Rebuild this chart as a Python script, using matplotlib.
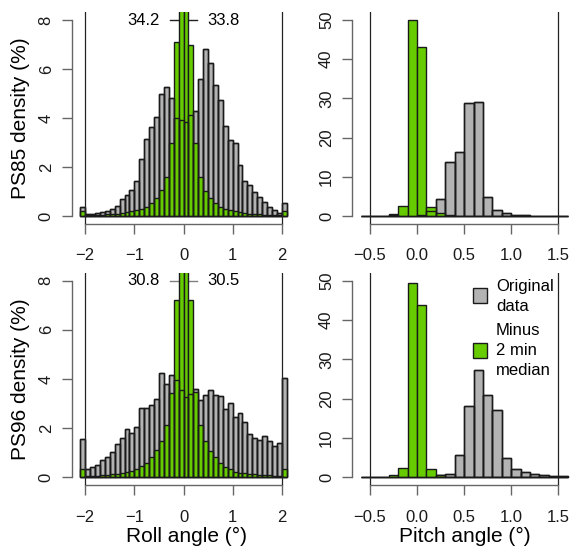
import numpy as np
import matplotlib
matplotlib.use("Agg")
import matplotlib.pyplot as plt
from matplotlib.patches import Rectangle

plt.rcParams['font.family'] = ['Liberation Sans', 'DejaVu Sans']

# bin edges (0.1 deg bins)
roll_edges = np.round(np.arange(-21, 22) * 0.1, 1)
pitch_edges = np.round(np.arange(-6, 17) * 0.1, 1)

# PS85 roll, density in % per bin
ps85_roll_orig = [0.38, 0.07, 0.10, 0.14, 0.18, 0.22, 0.27, 0.41, 0.69, 0.84, 1.06,
                  1.43, 2.34, 3.16, 3.65, 4.05, 5.00, 5.28, 4.83, 3.99, 3.92, 3.85,
                  4.12, 4.30, 5.58, 6.82, 6.23, 5.35, 4.73, 3.67, 3.10, 2.97, 2.10,
                  1.43, 1.27, 0.99, 0.79, 0.56, 0.38, 0.24, 0.14, 0.52]
ps85_roll_minus = [0.22, 0.02, 0.03, 0.04, 0.05, 0.06, 0.08, 0.10, 0.12, 0.15, 0.19,
                   0.23, 0.28, 0.38, 0.52, 0.72, 1.05, 1.60, 2.97, 7.10, 34.2, 33.8,
                   7.00, 2.97, 1.60, 1.03, 0.72, 0.52, 0.38, 0.30, 0.24, 0.20, 0.16,
                   0.13, 0.10, 0.08, 0.07, 0.05, 0.04, 0.03, 0.03, 0.22]

# PS96 roll
ps96_roll_orig = [1.56, 0.33, 0.41, 0.50, 0.71, 0.84, 1.04, 1.37, 1.61, 1.98, 1.79,
                  2.03, 2.81, 2.81, 2.94, 3.17, 4.26, 3.78, 4.16, 3.95, 3.55, 3.25,
                  3.40, 3.58, 3.15, 3.36, 3.56, 3.34, 3.31, 2.77, 3.04, 2.44, 2.60,
                  2.24, 1.77, 1.60, 1.53, 1.69, 1.49, 1.27, 1.41, 4.06]
ps96_roll_minus = [0.34, 0.05, 0.06, 0.07, 0.08, 0.10, 0.12, 0.14, 0.17, 0.20, 0.25,
                   0.34, 0.45, 0.60, 0.81, 1.10, 1.49, 2.13, 3.44, 7.20, 30.8, 30.5,
                   7.20, 3.47, 2.12, 1.49, 1.08, 0.84, 0.60, 0.43, 0.34, 0.23, 0.19,
                   0.16, 0.14, 0.12, 0.11, 0.09, 0.08, 0.07, 0.05, 0.34]

# pitch
ps85_pitch_orig = [0, 0, 0.02, 0.3, 0.1, 0.1, 0.2, 1.3, 4.3, 13.7, 16.2, 28.9, 29.2,
                   4.8, 1.4, 0.7, 0.35, 0.15, 0.05, 0.02, 0, 0]
ps85_pitch_minus = [0, 0, 0, 0.5, 2.6, 50.0, 43.1, 2.4, 0.85, 0.2, 0, 0, 0, 0, 0, 0,
                    0, 0, 0, 0, 0, 0]
ps96_pitch_orig = [0, 0.02, 0.05, 0.1, 0.1, 0.1, 0.1, 0.2, 0.5, 0.9, 5.7, 18.2, 27.2,
                   20.9, 17.0, 4.9, 2.2, 1.36, 0.95, 0.5, 0.25, 0.45]
ps96_pitch_minus = [0, 0, 0, 0.5, 2.5, 49.5, 43.8, 2.1, 0.65, 0.2, 0.05, 0, 0, 0, 0,
                    0, 0, 0, 0, 0, 0, 0]

roll_ticks = [-2, -1, 0, 1, 2]
pitch_ticks = [-0.5, 0.0, 0.5, 1.0, 1.5]

GREY = '#b3b3b3'
GREEN = '#66cc00'
EDGE = '#1a1a1a'
AXC = '#666666'
LW = 1.0

W, H = 571, 549
fig = plt.figure(figsize=(W / 100, H / 100), dpi=100)


def box(x0, y0, x1, y1):
    return [x0 / W, 1 - y1 / H, (x1 - x0) / W, (y1 - y0) / H]


def draw_hist(ax, edges, orig, minus):
    left = edges[:-1]
    w = np.diff(edges)
    ax.bar(left, orig, width=w, align='edge', color=GREY, edgecolor=EDGE, lw=LW, zorder=2)
    ax.bar(left, minus, width=w, align='edge', color=GREEN, edgecolor=EDGE, lw=LW, zorder=3)
    ax.bar(left, orig, width=w, align='edge', facecolor='none', edgecolor=EDGE, lw=LW, zorder=4)


def style(ax, edges, ymax, yticks, xticks, xlabels):
    r = edges[-1] - edges[0]
    ax.set_xlim(edges[0] - 0.04 * r, edges[-1] + 0.04 * r)
    ax.set_ylim(-0.04 * ymax, 1.04 * ymax)
    for s in ['top', 'right']:
        ax.spines[s].set_visible(False)
    ax.spines['left'].set_bounds(0, ymax)
    ax.spines['bottom'].set_bounds(xticks[0], xticks[-1])
    for s in ['left', 'bottom']:
        ax.spines[s].set_color(AXC)
        ax.spines[s].set_linewidth(1.0)
    ax.set_xticks(xticks)
    ax.set_xticklabels(xlabels)
    ax.set_yticks(yticks)
    ax.set_yticklabels([str(v) for v in yticks], rotation=90, va='center')
    ax.tick_params(axis='both', length=7.2, width=1.0, color=AXC, labelsize=12,
                   labelcolor='#1a1a1a')
    ax.tick_params(axis='x', pad=10.5)
    ax.tick_params(axis='y', pad=6)
    for v in (xticks[0], xticks[-1]):
        ax.axvline(v, color='#222222', lw=0.9, zorder=5)
    ax.patch.set_alpha(0)


def peak_labels(ax, minus, color):
    i = int(np.argmax(minus))
    a, b = minus[i], minus[i + 1]
    ax.plot([-0.28, -0.1], [8, 8], color=color, lw=1.0, zorder=1)
    ax.plot([0.1, 0.28], [8, 8], color=color, lw=1.0, zorder=1)
    ax.text(-0.49, 8, f'{a:.1f}', ha='right', va='center', fontsize=12)
    ax.text(0.48, 8, f'{b:.1f}', ha='left', va='center', fontsize=12)


roll_labels = ['\u22122', '\u22121', '0', '1', '2']
pitch_labels = ['\u22120.5', '0.0', '0.5', '1.0', '1.5']

ax1 = fig.add_axes(box(72, 12.2, 295, 223.8))
draw_hist(ax1, roll_edges, ps85_roll_orig, ps85_roll_minus)
style(ax1, roll_edges, 8, [0, 2, 4, 6, 8], roll_ticks, roll_labels)
peak_labels(ax1, ps85_roll_minus, '#222222')

ax2 = fig.add_axes(box(352.3, 12.2, 576, 223.8))
draw_hist(ax2, pitch_edges, ps85_pitch_orig, ps85_pitch_minus)
style(ax2, pitch_edges, 50, [0, 10, 20, 30, 40, 50], pitch_ticks, pitch_labels)

ax3 = fig.add_axes(box(72, 272.8, 295, 485.2))
draw_hist(ax3, roll_edges, ps96_roll_orig, ps96_roll_minus)
style(ax3, roll_edges, 8, [0, 2, 4, 6, 8], roll_ticks, roll_labels)
peak_labels(ax3, ps96_roll_minus, '#808080')

ax4 = fig.add_axes(box(352.3, 272.8, 576, 485.2))
draw_hist(ax4, pitch_edges, ps96_pitch_orig, ps96_pitch_minus)
style(ax4, pitch_edges, 50, [0, 10, 20, 30, 40, 50], pitch_ticks, pitch_labels)

# axis titles
fig.text(21 / W, 1 - 118 / H, 'PS85 density (%)', rotation=90, ha='center', va='center', fontsize=15)
fig.text(21 / W, 1 - 379 / H, 'PS96 density (%)', rotation=90, ha='center', va='center', fontsize=15)
fig.text(187 / W, 1 - 536 / H, 'Roll angle (\u00b0)', ha='center', va='center', fontsize=15)
fig.text(465 / W, 1 - 536 / H, 'Pitch angle (\u00b0)', ha='center', va='center', fontsize=15)

# legend
fig.patches.append(Rectangle((472.7 / W, 1 - 303 / H), 14.7 / W, 14.7 / H,
                             transform=fig.transFigure, facecolor=GREY, edgecolor=EDGE, lw=LW))
fig.patches.append(Rectangle((472.7 / W, 1 - 357.8 / H), 14.7 / W, 14.7 / H,
                             transform=fig.transFigure, facecolor=GREEN, edgecolor=EDGE, lw=LW))
fig.text(496 / W, 1 - 296.9 / H, 'Original\ndata', ha='left', va='center', fontsize=12, linespacing=1.4)
fig.text(496 / W, 1 - 350.7 / H, 'Minus\n2 min\nmedian', ha='left', va='center', fontsize=12, linespacing=1.4)

fig.savefig('out.png', dpi=100)
